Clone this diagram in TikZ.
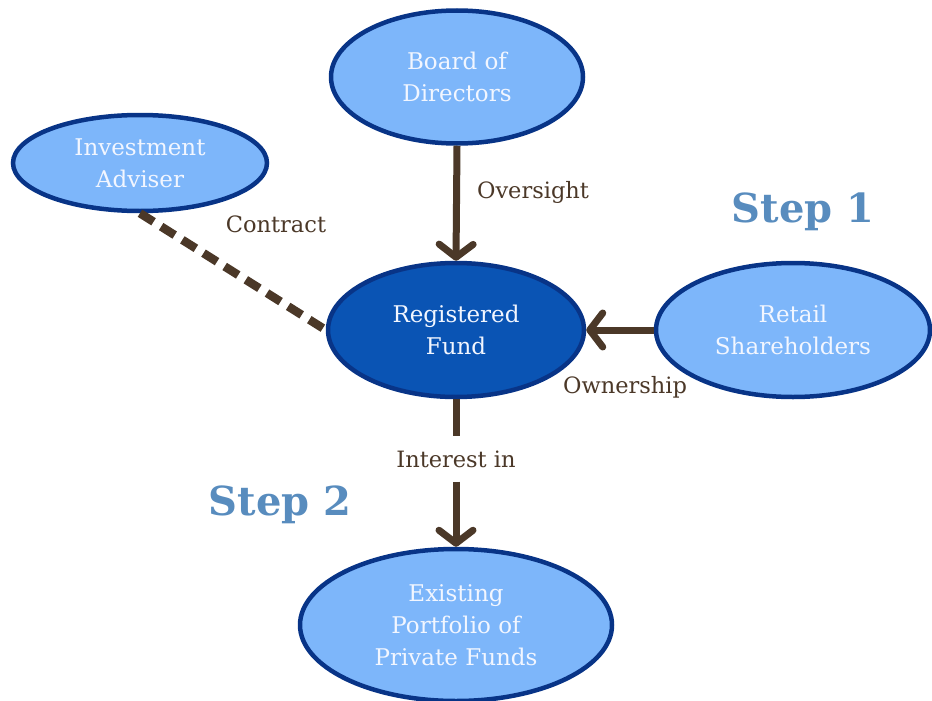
\documentclass[tikz,border=0pt]{standalone}
\usepackage{fontspec}
\setmainfont{DejaVu Serif}
\usetikzlibrary{shapes.geometric,arrows.meta}
\definecolor{lightfill}{RGB}{125,182,250}
\definecolor{navyline}{RGB}{8,52,135}
\definecolor{fundfill}{RGB}{10,84,180}
\definecolor{arrowbrown}{RGB}{75,56,40}
\definecolor{steptext}{RGB}{88,140,190}
\definecolor{bubbletext}{RGB}{242,246,255}
\begin{document}
\begin{tikzpicture}[x=1pt,y=-1pt,
  bubble/.style={ellipse, draw=navyline, line width=4.5pt, fill=lightfill,
    text=bubbletext, inner sep=0pt, align=center,
    font=\fontsize{23}{32}\selectfont},
  fundbubble/.style={bubble, fill=fundfill},
  lbl/.style={text=arrowbrown, font=\fontsize{22.5}{28}\selectfont, inner sep=0pt},
  steplabel/.style={text=steptext, font=\fontsize{40}{44}\selectfont\bfseries, inner sep=0pt},
  link/.style={draw=arrowbrown, line width=7pt},
  tip/.style={-{Straight Barb[length=13pt,width=34pt,line width=7pt,round]}},
  contractline/.style={draw=arrowbrown, line width=8.5pt, dash pattern=on 16pt off 9pt}]
\useasboundingbox (0,0) rectangle (932,701);

% ellipses
\node[bubble, minimum width=252pt, minimum height=133pt] (bo) at (457,77) {Board of\\Directors};
\node[bubble, minimum width=254pt, minimum height=96pt] (ia) at (140,163) {Investment\\Adviser};
\node[fundbubble, minimum width=256pt, minimum height=134pt] (rf) at (456,330) {Registered\\Fund};
\node[bubble, minimum width=274pt, minimum height=134pt] (rs) at (793,330) {Retail\\Shareholders};
\node[bubble, minimum width=312pt, minimum height=152pt] (ex) at (456,625) {Existing\\Portfolio of\\Private Funds};

% connectors
\draw[link, tip] (bo.south) -- (rf.north);
\draw[link, tip] (rs.west) -- (rf.east);
\draw[contractline] (ia.south) -- (rf.west);
\node[lbl, inner xsep=4pt, inner ysep=14pt] (int) at (456,459) {Interest in};
\draw[link] (rf.south) -- (int.north);
\draw[link, tip] (int.south) -- (ex.north);

% edge labels
\node[lbl] (ov) at (533,192) {Oversight};
\node[lbl] (ct) at (276,224) {Contract};
\node[lbl] (ow) at (625,387) {Ownership};

% step captions
\node[steplabel] (s1) at (803,212) {Step 1};
\node[steplabel] (s2) at (280,505) {Step 2};
\end{tikzpicture}
\end{document}
